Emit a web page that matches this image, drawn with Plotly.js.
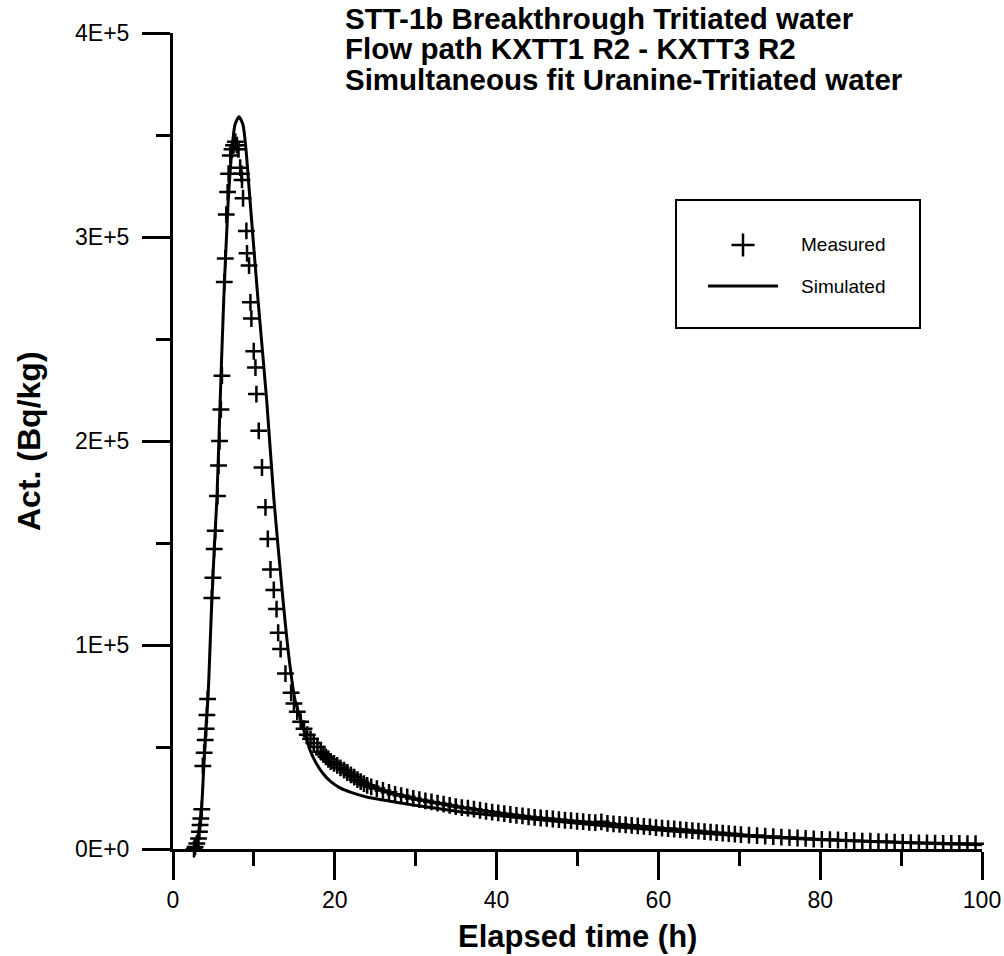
<!DOCTYPE html>
<html>
<head>
<meta charset="utf-8">
<script src="https://cdn.plot.ly/plotly-3.0.1.min.js"></script>
<style>
  html, body { margin: 0; padding: 0; background: #ffffff; }
  #chart { width: 1004px; height: 956px; }
</style>
</head>
<body>
<div id="chart"></div>
<script>
// STT-1b breakthrough of tritiated water, flow path KXTT1 R2 - KXTT3 R2

// Measured activity: elapsed time (h) and activity (Bq/kg)
const measuredTime = [
  2.6, 2.73, 2.94, 3.15, 3.27, 3.35, 3.44, 3.56, 3.69, 3.85, 3.98, 4.10, 4.19, 4.28,
  4.80, 4.93, 5.09, 5.22, 5.50, 5.63, 5.75, 5.92, 6.05, 6.34, 6.46, 6.58, 6.75, 6.87,
  7.08, 7.29, 7.49, 7.70, 7.90, 8.10, 8.30, 8.45, 8.53, 8.66, 9.07, 9.15, 9.40, 9.57,
  9.69, 9.98, 10.19, 10.31, 10.60, 11.00, 11.43, 11.72, 12.05, 12.46, 12.80, 13.00,
  13.30, 13.90, 14.60, 14.95, 15.36, 15.78, 16.20, 16.60, 17.00, 17.40, 17.85, 18.26,
  18.60, 18.90, 19.20, 19.50, 19.90, 20.30, 20.70, 21.15, 21.55, 21.99, 22.40, 22.80,
  23.20, 23.60, 24.00, 24.50,
  25.20, 25.95, 26.70, 27.45, 28.20, 28.95, 29.70, 30.45, 31.20, 31.95, 32.70, 33.45,
  34.20, 34.95, 35.70, 36.45, 37.20, 37.95, 38.70, 39.45, 40.20, 40.95, 41.70, 42.45,
  43.20, 43.95, 44.70, 45.45, 46.20, 46.95, 47.70, 48.45, 49.20, 49.95, 50.70, 51.45,
  52.20, 52.95, 53.70, 54.45, 55.20, 55.95, 56.70, 57.45, 58.20, 58.95, 59.70, 60.45,
  61.20, 61.95, 62.70, 63.45, 64.20, 64.95, 65.70, 66.45, 67.20, 67.95, 68.70, 69.45,
  70.2, 71.2, 72.2, 73.2, 74.2, 75.2, 76.2, 77.2, 78.2, 79.2, 80.2, 81.2, 82.2, 83.2,
  84.2, 85.2, 86.2, 87.2, 88.2, 89.2, 90.2, 91.2, 92.2, 93.2, 94.2, 95.2, 96.2, 97.2,
  98.2, 99.2
];
const measuredAct = [
  0, 1000, 2700, 5200, 8500, 11800, 15000, 19500, 40700, 47200, 53400, 59000, 65700, 73500,
  123000, 133000, 147000, 156000, 173000, 188000, 200000, 215500, 232000, 278000, 289500, 311000, 322000, 331000,
  340000, 343000, 345000, 346700, 345000, 343000, 334000, 331000, 328000, 319000, 303000, 292000, 286000, 268000,
  260000, 244000, 236000, 223000, 205000, 187000, 167500, 152000, 137000, 127000, 117600, 106000,
  98000, 86000, 76600, 71300, 67300, 62400, 59000, 56000, 54000, 52000, 50000, 47700,
  46500, 45200, 44000, 42800, 42000, 41000, 39800, 38700, 37500, 36300, 35200, 34000,
  33000, 32000, 31200, 30500,
  29600, 28700, 27800, 26800, 26200, 25600, 24800, 24200, 23600, 23100, 22500, 22000,
  21400, 20800, 20300, 20000, 19500, 19000, 18500, 18100, 17700, 17300, 16900, 16500,
  16200, 15800, 15500, 15200, 15000, 14700, 14400, 14100, 13900, 13600, 13400, 13100,
  12900, 13300, 12600, 12300, 12100, 11800, 11600, 11300, 11100, 10800, 10500, 10200,
  10000, 9800, 9500, 9300, 9000, 8800, 8500, 8300, 8000, 7800, 7500, 7300,
  7000, 6800, 6600, 6300, 6100, 5800, 5600, 5400, 5200, 4900, 4700, 4600, 4400, 4200,
  4100, 3900, 3800, 3600, 3500, 3400, 3200, 3100, 3000, 3000, 2900, 2800, 2700, 2700,
  2600, 2600
];

// Simulated activity from the simultaneous Uranine / tritiated water fit
const simulatedTime = [
  2.3, 2.51, 2.8, 3.05, 3.3, 3.55, 3.75, 3.96, 4.15, 4.35, 4.55, 4.78, 5.1, 5.44,
  5.81, 6.24, 6.8, 7.29, 7.66, 8.16, 8.65, 9.02, 9.52, 10.51, 11.58, 12.48, 13.6,
  14.3, 15.08, 15.91, 16.93, 17.7, 18.54, 19.5, 20.64, 22.2, 23.94, 26.0, 29.8,
  33.0, 36.0, 39.8, 45.0, 49.7, 55.0, 60.0, 63.0, 70.0, 75.0, 81.0, 90.0, 95.0, 100.0
];
const simulatedAct = [
  0, 0, 2000, 5500, 12000, 21000, 36000, 52000, 64000, 76000, 96000, 120000, 147000, 173000,
  217000, 266000, 316000, 343000, 355000, 359000, 355000, 343000, 318000, 269000, 220000, 171000, 122000,
  95000, 73000, 62000, 48500, 42000, 37000, 33000, 30000, 27500, 25500, 24000, 21500,
  19700, 18000, 16500, 14500, 12700, 10800, 9300, 8400, 6500, 5500, 4400, 3200, 2600, 2100
];

// Axis ticks and labels
const xTickValues = [0, 20, 40, 60, 80, 100];
const xMinorValues = [10, 30, 50, 70, 90];
const yTickValues = [0, 100000, 200000, 300000, 400000];
const yTickLabels = ["0E+0", "1E+5", "2E+5", "3E+5", "4E+5"];
const yMinorValues = [50000, 150000, 250000, 350000];

// Text
const titleLines = [
  "STT-1b Breakthrough Tritiated water",
  "Flow path KXTT1 R2 - KXTT3 R2",
  "Simultaneous fit Uranine-Tritiated water"
];
const xTitle = "Elapsed time (h)";
const yTitle = "Act. (Bq/kg)";
const seriesNames = ["Measured", "Simulated"];

// ---- layout geometry (pixels) ----
const W = 1004, H = 956;
const M = { l: 173, r: 22, t: 33, b: 107 };
const plotW = W - M.l - M.r, plotH = H - M.t - M.b;
const px = x => (x - M.l) / plotW;          // pixel column -> paper x
const py = y => (H - M.b - y) / plotH;      // pixel row -> paper y

const FONT = "Liberation Sans, Arial, Helvetica, sans-serif";
const INK = "#000000";

const traces = [
  {
    x: simulatedTime, y: simulatedAct, name: seriesNames[1],
    type: "scatter", mode: "lines",
    line: { color: INK, width: 3, shape: "spline", smoothing: 0.6 },
    cliponaxis: false, hoverinfo: "skip"
  },
  {
    x: measuredTime, y: measuredAct, name: seriesNames[0],
    type: "scatter", mode: "markers",
    marker: { symbol: "cross-thin", size: 12, color: INK, line: { color: INK, width: 2.5 } },
    cliponaxis: false, hoverinfo: "skip"
  }
];

const axisCommon = {
  showline: true, linecolor: INK, linewidth: 3,
  ticks: "outside", ticklen: 28, tickwidth: 3, tickcolor: INK,
  showgrid: false, zeroline: false, fixedrange: true,
  tickfont: { family: FONT, size: 23, color: INK }
};

const titleAnnotations = titleLines.map((t, i) => ({
  text: t, xref: "paper", yref: "paper",
  x: px(343), y: py(18 + 30.5 * i), xanchor: "left", yanchor: "middle",
  showarrow: false, align: "left",
  font: { family: FONT, size: 29.5, color: INK, weight: "bold" }
}));

const layout = {
  width: W, height: H, margin: M,
  paper_bgcolor: "#ffffff", plot_bgcolor: "#ffffff",
  showlegend: false,
  xaxis: Object.assign({}, axisCommon, {
    range: [0, 100], tickmode: "array", tickvals: xTickValues,
    ticklabelstandoff: 0,
    minor: { tickmode: "array", tickvals: xMinorValues, ticks: "outside",
             ticklen: 14, tickwidth: 3, tickcolor: INK, showgrid: false }
  }),
  yaxis: Object.assign({}, axisCommon, {
    range: [0, 400000], tickmode: "array", tickvals: yTickValues, ticktext: yTickLabels,
    ticklabelstandoff: 8,
    minor: { tickmode: "array", tickvals: yMinorValues, ticks: "outside",
             ticklen: 14, tickwidth: 3, tickcolor: INK, showgrid: false }
  }),
  annotations: titleAnnotations.concat([
    { text: xTitle, xref: "paper", yref: "paper", x: 0.5, y: py(936),
      xanchor: "center", yanchor: "middle", showarrow: false,
      font: { family: FONT, size: 31, color: INK, weight: "bold" } },
    { text: yTitle, xref: "paper", yref: "paper", x: px(29), y: 0.5, textangle: -90,
      xanchor: "center", yanchor: "middle", showarrow: false,
      font: { family: FONT, size: 32, color: INK, weight: "bold" } },
    { text: seriesNames[0], xref: "paper", yref: "paper", x: px(799), y: py(245),
      xanchor: "left", yanchor: "middle", showarrow: false,
      font: { family: FONT, size: 19, color: INK } },
    { text: seriesNames[1], xref: "paper", yref: "paper", x: px(799), y: py(286),
      xanchor: "left", yanchor: "middle", showarrow: false,
      font: { family: FONT, size: 19, color: INK } }
  ]),
  shapes: [
    // legend frame
    { type: "rect", xref: "paper", yref: "paper",
      x0: px(676), x1: px(920), y0: py(328), y1: py(200),
      line: { color: INK, width: 2 }, fillcolor: "rgba(0,0,0,0)" },
    // legend key: measured cross
    { type: "line", xref: "paper", yref: "paper",
      x0: px(731.5), x1: px(754.5), y0: py(245), y1: py(245),
      line: { color: INK, width: 2.5 } },
    { type: "line", xref: "paper", yref: "paper",
      x0: px(743), x1: px(743), y0: py(233.5), y1: py(256.5),
      line: { color: INK, width: 2.5 } },
    // legend key: simulated line
    { type: "line", xref: "paper", yref: "paper",
      x0: px(708), x1: px(778), y0: py(286), y1: py(286),
      line: { color: INK, width: 3 } }
  ]
};

Plotly.newPlot("chart", traces, layout, { displayModeBar: false, staticPlot: true });
</script>
</body>
</html>
